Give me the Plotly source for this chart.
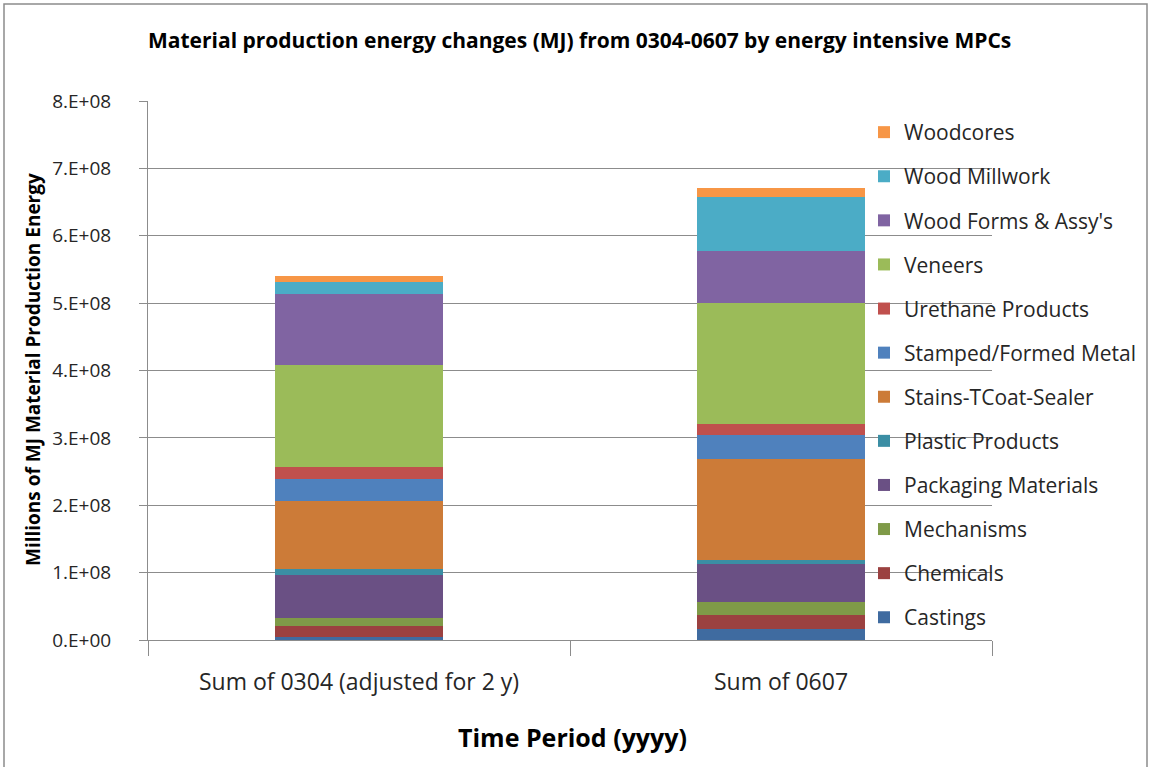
import plotly.graph_objects as go

categories = ["Sum of 0304 (adjusted for 2 y)", "Sum of 0607"]
series_names = ["Castings", "Chemicals", "Mechanisms", "Packaging Materials", "Plastic Products",
                "Stains-TCoat-Sealer", "Stamped/Formed Metal", "Urethane Products", "Veneers",
                "Wood Forms & Assy's", "Wood Millwork", "Woodcores"]
castings = [4.0e6, 16.3e6]
chemicals = [17.4e6, 20.3e6]
mechanisms = [10.9e6, 19.3e6]
packaging = [64.2e6, 57.0e6]
plastic = [9.0e6, 5.4e6]
stains = [100.5e6, 151.0e6]
stamped = [33.3e6, 35.2e6]
urethane = [17.9e6, 15.8e6]
veneers = [151.3e6, 179.7e6]
wood_forms = [105.4e6, 77.7e6]
wood_millwork = [17.4e6, 80.2e6]
woodcores = [9.5e6, 12.4e6]
series_values = [castings, chemicals, mechanisms, packaging, plastic, stains, stamped,
                 urethane, veneers, wood_forms, wood_millwork, woodcores]
colors = ["#3f6ba0", "#9b4140", "#7f9a48", "#6a5084", "#3b8ea4", "#cc7b38",
          "#4f81bd", "#c0504d", "#9bbb59", "#8064a2", "#4bacc6", "#f79646"]
tick_vals = [0, 1e8, 2e8, 3e8, 4e8, 5e8, 6e8, 7e8, 8e8]
tick_text = ["0.E+00", "1.E+08", "2.E+08", "3.E+08", "4.E+08", "5.E+08", "6.E+08", "7.E+08", "8.E+08"]

FONT = "Open Sans"
TXT = "#262626"
fig = go.Figure()
n = len(series_names)
for i, (name, vals, col) in enumerate(zip(series_names, series_values, colors)):
    fig.add_trace(go.Bar(x=categories, y=vals, name=name, marker_color=col,
                         marker_line_width=0, legendgroup=name, legendrank=100 + n - i))

W, H = 1151, 767
L, R, T, B = 148, 159, 101, 127
pw, ph = W - L - R, H - T - B

def px(x):
    return (x - L) / pw

def py(y):
    return (H - B - y) / ph

fig.update_layout(
    width=W, height=H, barmode="stack", bargap=0.6,
    margin=dict(l=L, r=R, t=T, b=B, autoexpand=False),
    paper_bgcolor="white", plot_bgcolor="white",
    font=dict(family=FONT, color=TXT),
    showlegend=True,
    legend=dict(traceorder="grouped", tracegroupgap=13.8,
                x=px(864), y=py(112), xanchor="left", yanchor="top",
                font=dict(size=21, family=FONT, color=TXT),
                bgcolor="rgba(0,0,0,0)"),
    xaxis=dict(showline=True, linecolor="#8c8c8c", linewidth=1,
               ticks="outside", tickson="boundaries", ticklen=15, tickcolor="#8c8c8c",
               ticklabelstandoff=21,
               tickfont=dict(size=23, family=FONT, color=TXT), showgrid=False),
    yaxis=dict(range=[0, 8e8], tickvals=tick_vals, ticktext=tick_text,
               showline=True, linecolor="#8c8c8c", linewidth=1,
               ticks="outside", ticklen=8, tickcolor="#8c8c8c", ticklabelstandoff=24,
               showgrid=True, gridcolor="#8c8c8c", gridwidth=1,
               tickfont=dict(size=19, family=FONT, color=TXT), zeroline=False),
    annotations=[
        dict(text="<b>Material production energy changes (MJ) from 0304-0607 by energy intensive MPCs</b>",
             xref="paper", yref="paper", x=px(579), y=py(40), showarrow=False,
             font=dict(size=21, family=FONT, color="#000000"), xanchor="center", yanchor="middle"),
        dict(text="<b>Millions of MJ Material Production Energy</b>",
             xref="paper", yref="paper", x=px(33), y=py(370), showarrow=False, textangle=-90,
             font=dict(size=19, family=FONT, color="#000000"), xanchor="center", yanchor="middle"),
        dict(text="<b>Time Period (yyyy)</b>",
             xref="paper", yref="paper", x=px(572), y=py(737), showarrow=False,
             font=dict(size=25, family=FONT, color="#000000"), xanchor="center", yanchor="middle"),
    ],
    shapes=[dict(type="rect", xref="paper", yref="paper",
                 x0=px(4), x1=px(1147), y0=py(772), y1=py(4),
                 line=dict(color="#8c8c8c", width=1.5), fillcolor="rgba(0,0,0,0)", layer="below")],
)
fig.write_html("out.html", config={"displayModeBar": False},
               post_script="document.body.style.margin='0';")
